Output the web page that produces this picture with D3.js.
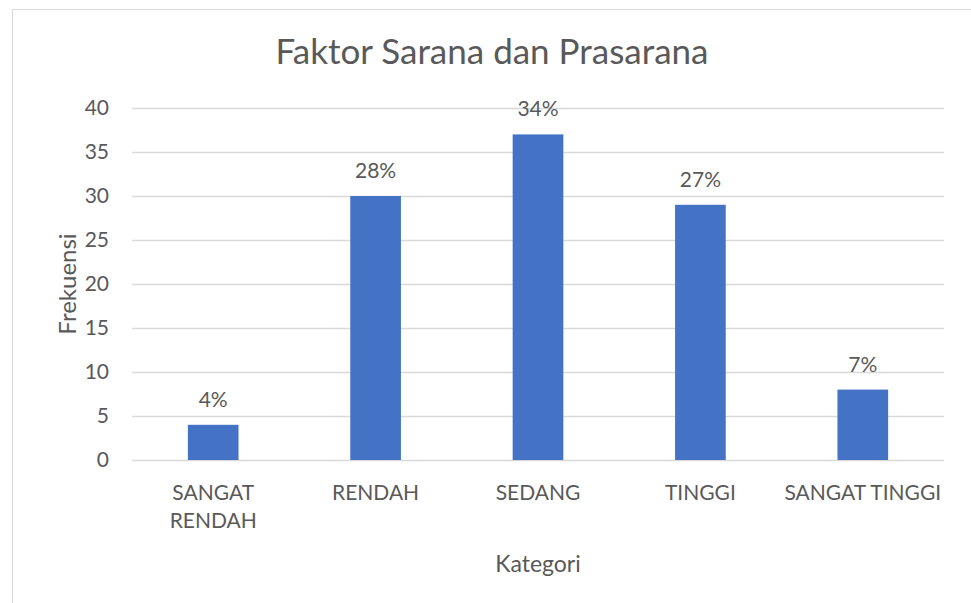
<!DOCTYPE html>
<html>
<head>
<meta charset="utf-8">
<script src="https://cdn.jsdelivr.net/npm/d3@7"></script>
<style>
  body { margin: 0; background: #fff; }
  text { font-family: Lato, "Open Sans", sans-serif; fill: #595959; }
</style>
</head>
<body>
<div id="chart"></div>
<script>
// chart values
const categories = ['SANGAT RENDAH', 'RENDAH', 'SEDANG', 'TINGGI', 'SANGAT TINGGI'];
const frekuensi = [4, 30, 37, 29, 8];
const persen = ['4%', '28%', '34%', '27%', '7%'];
const yTicks = [0, 5, 10, 15, 20, 25, 30, 35, 40];

const W = 971, H = 603;
const margin = { top: 108, right: 27, bottom: 143, left: 132 };
const width = W - margin.left - margin.right;
const height = H - margin.top - margin.bottom;

const root = d3.select('#chart').append('svg')
    .attr('width', W)
    .attr('height', H);

// outer chart border (right/bottom run off the picture)
root.append('rect')
    .attr('x', 12.5).attr('y', 9.5)
    .attr('width', W + 10).attr('height', H + 10)
    .attr('fill', 'none')
    .attr('stroke', '#d9d9d9')
    .attr('stroke-width', 1);

const svg = root.append('g')
    .attr('transform', `translate(${margin.left},${margin.top})`);

const x = d3.scaleBand()
    .domain(categories)
    .range([0, width]);

const y = d3.scaleLinear()
    .domain([0, 40])
    .range([height, 0]);

// gridlines
svg.append('g')
    .selectAll('line')
    .data(yTicks)
    .enter().append('line')
    .attr('x1', 0).attr('x2', width)
    .attr('y1', d => Math.round(y(d)) + 0.5)
    .attr('y2', d => Math.round(y(d)) + 0.5)
    .attr('stroke', '#d9d9d9')
    .attr('stroke-width', 1.3);

// y tick labels
svg.append('g')
    .selectAll('text')
    .data(yTicks)
    .enter().append('text')
    .attr('x', -23)
    .attr('y', d => y(d))
    .attr('dy', '0.35em')
    .attr('text-anchor', 'end')
    .style('font-size', '21px')
    .text(d => d);

const barW = x.bandwidth() * 0.312;

svg.selectAll('.bar')
    .data(frekuensi)
    .enter().append('rect')
    .attr('class', 'bar')
    .attr('x', (d, i) => x(categories[i]) + (x.bandwidth() - barW) / 2)
    .attr('y', d => y(d))
    .attr('width', barW)
    .attr('height', d => height - y(d))
    .attr('fill', '#4472c4');

// data labels
svg.selectAll('.lbl')
    .data(frekuensi)
    .enter().append('text')
    .attr('class', 'lbl')
    .attr('x', (d, i) => x(categories[i]) + x.bandwidth() / 2)
    .attr('y', d => y(d) - 18)
    .attr('text-anchor', 'middle')
    .style('font-size', '21px')
    .text((d, i) => persen[i]);

// category labels, wrap when too wide
const catG = svg.append('g')
    .attr('transform', `translate(0,${height})`);

categories.forEach((c, i) => {
    const lines = c === 'SANGAT RENDAH' ? ['SANGAT', 'RENDAH'] : [c];
    const t = catG.append('text')
        .attr('text-anchor', 'middle')
        .style('font-size', '21px');
    lines.forEach((ln, j) => {
        t.append('tspan')
            .attr('x', x(c) + x.bandwidth() / 2)
            .attr('y', 40 + j * 28)
            .text(ln);
    });
});

// title
root.append('text')
    .attr('x', 492)
    .attr('y', 64)
    .attr('text-anchor', 'middle')
    .style('font-size', '35px')
    .text('Faktor Sarana dan Prasarana');

// axis titles
root.append('text')
    .attr('transform', `translate(76,${margin.top + height / 2}) rotate(-90)`)
    .attr('text-anchor', 'middle')
    .style('font-size', '24px')
    .text('Frekuensi');

root.append('text')
    .attr('x', margin.left + width / 2)
    .attr('y', 572)
    .attr('text-anchor', 'middle')
    .style('font-size', '23px')
    .text('Kategori');
</script>
</body>
</html>
